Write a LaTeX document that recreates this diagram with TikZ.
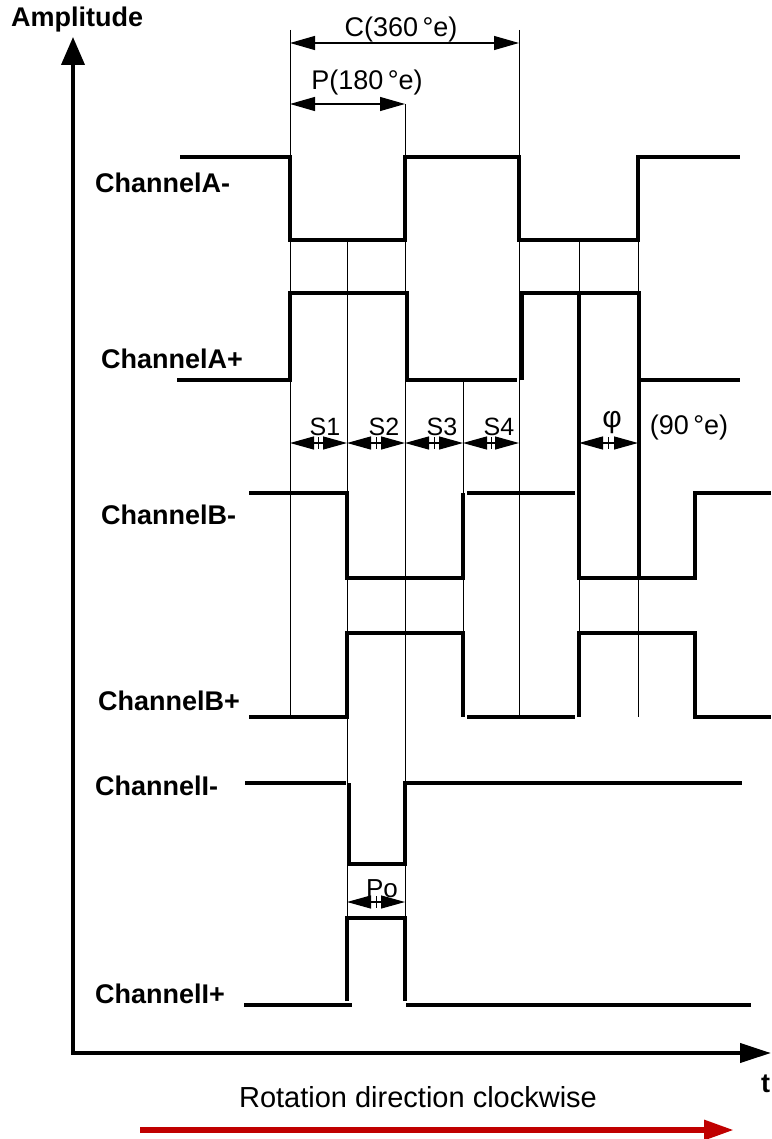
\documentclass[tikz,border=0pt]{standalone}
\usepackage{fontspec}
\setmainfont{Liberation Sans}
\usetikzlibrary{arrows.meta}
\definecolor{fred}{HTML}{C00000}
\tikzset{
  wave/.style     = {line width=4pt},
  guide/.style    = {line width=0.9pt},
  axis/.style     = {line width=4pt, {Triangle[length=28pt,width=23pt]}-{Triangle[length=31pt,width=19pt]}},
  dim/.style      = {line width=1.2pt, {Triangle[length=25pt,width=14pt]}-{Triangle[length=25pt,width=14pt]}},
  sdim/.style     = {line width=1.2pt, {Triangle[length=24pt,width=13pt]}-{Triangle[length=24pt,width=13pt]}},
  chlabel/.style  = {anchor=base west, inner sep=0pt,
                     font=\fontsize{27}{32}\bfseries\selectfont},
  dimlabel/.style = {anchor=base, inner sep=0pt,
                     font=\fontsize{27}{30}\selectfont},
  slabel/.style   = {anchor=base, inner sep=0pt,
                     font=\fontsize{25}{28}\selectfont},
}

\begin{document}
\begin{tikzpicture}[x=1pt, y=-1pt]
\useasboundingbox (0,0) rectangle (771,1139);
% ---- axes ----
\draw[axis] (73,37) -- (73,1053) -- (771,1053);
\node[chlabel] (amp) at (11,27) {Amplitude};
\node[chlabel] (tlab) at (761,1092) {t};
% ---- guide lines ----
\draw[guide] (290,30) -- (290,717);
\draw[guide] (347,240) -- (347,918);
\draw[guide] (405,104) -- (405,918);
\draw[guide] (463,380) -- (463,717);
\draw[guide] (519,30) -- (519,715);
\draw[guide] (579,240) -- (579,717);
\draw[guide] (638,240) -- (638,717);
% ---- period and pitch ----
\draw[dim] (290,43) -- (519,43);
\node[dimlabel] (cyc) at (401,37) {C(360\,°e)};
\draw[dim] (290,104) -- (405,104);
\node[dimlabel] (pit) at (367,90) {P(180\,°e)};
% ---- channel A ----
\node[chlabel] (chAm) at (95,193) {ChannelA-};
\draw[wave] (180,157) -- (290,157) -- (290,240) -- (405,240) -- (405,157)
            -- (519,157) -- (519,240) -- (638,240) -- (638,157) -- (740,157);
\node[chlabel] (chAp) at (101,368) {ChannelA+};
\draw[wave] (177,380) -- (290,380) -- (290,293) -- (407,293) -- (407,380)
            -- (517,380);
\draw[wave] (522,380) -- (522,293) -- (639,293) -- (639,578);
\draw[wave] (639,380) -- (740,380);
% ---- states ----
\foreach \xa/\xb/\lab/\lx in {290/347/S1/325, 347/405/S2/384,
                              405/463/S3/442, 463/519/S4/499} {
  \draw[sdim] (\xa,443) -- (\xb,443);
  \draw[guide] ({(\xa+\xb)/2},437) -- ({(\xa+\xb)/2},449);
  \node[slabel] at (\lx,435) {\lab};
}
\draw[sdim] (579,443) -- (638,443);
\draw[guide] (608,437) -- (608,449);
\node[slabel, font=\fontsize{30}{34}\selectfont] (phi) at (612,427) {φ};
\node[dimlabel] (quad) at (689,434) {(90\,°e)};
% ---- channel B ----
\node[chlabel] (chBm) at (101,524) {ChannelB-};
\draw[wave] (249,493) -- (347,493) -- (347,578) -- (463,578) -- (463,493);
\draw[wave] (467,493) -- (575,493);
\draw[wave] (579,293) -- (579,578) -- (695,578) -- (695,493) -- (771,493);
\node[chlabel] (chBp) at (98,710) {ChannelB+};
\draw[wave] (249,717) -- (347,717) -- (347,633) -- (463,633) -- (463,717);
\draw[wave] (467,717) -- (575,717);
\draw[wave] (579,717) -- (579,633) -- (695,633) -- (695,717) -- (771,717);
% ---- channel I ----
\node[chlabel] (chIm) at (95,795) {ChannelI-};
\draw[wave] (245,783) -- (346,783);
\draw[wave] (349,783) -- (349,864) -- (405,864) -- (405,783) -- (742,783);
\draw[sdim] (347,902) -- (405,902);
\draw[guide] (376,896) -- (376,908);
\node[slabel, font=\fontsize{26}{30}\selectfont] (zero) at (382,897) {Po};
\node[chlabel] (chIp) at (95,1003) {ChannelI+};
\draw[wave] (244,1005) -- (352,1005);
\draw[wave] (347,1001) -- (347,918) -- (405,918) -- (405,1001);
\draw[wave] (406,1005) -- (751,1005);
% ---- direction ----
\node[dimlabel, font=\fontsize{29}{32}\selectfont] (rot) at (418,1107)
     {Rotation direction clockwise};
\draw[fred, line width=6pt, -{Triangle[length=30pt,width=19pt]}]
     (140,1130) -- (734,1130);
\end{tikzpicture}
\end{document}
